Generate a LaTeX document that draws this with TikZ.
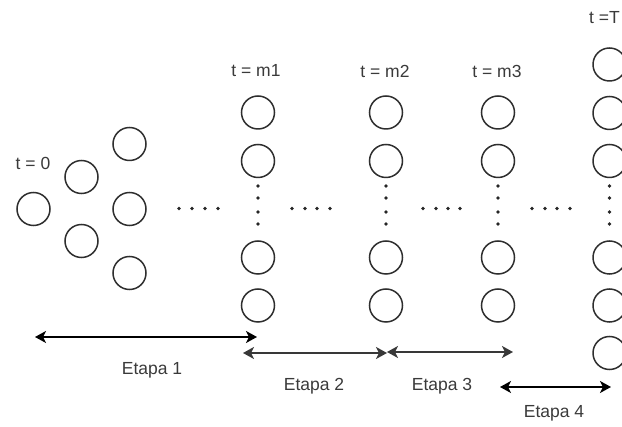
\documentclass[tikz,border=0pt]{standalone}
\usepackage{fontspec}
\setmainfont{Liberation Sans}
\usetikzlibrary{arrows.meta}
\definecolor{ink}{HTML}{2E2E2E}
\definecolor{txt}{HTML}{3A3A3A}
\tikzset{
  neuron/.style={circle,draw=ink,line width=1.5pt,minimum size=33pt,inner sep=0pt},
  lbl/.style={text=txt,font=\fontsize{17.5}{20}\selectfont,inner sep=0pt},
  span/.style={line width=1.6pt,{Stealth[length=11pt,width=12pt,inset=3pt]}-{Stealth[length=11pt,width=12pt,inset=3pt]}},
  dotmark/.style={circle,fill=black!85,minimum size=3.8pt,inner sep=0pt}
}
\begin{document}
\begin{tikzpicture}[x=1pt,y=-1pt]
\useasboundingbox (0,0) rectangle (622,427);
\clip (0,0) rectangle (622,427);
% t = 0 group
\node[lbl] (l0) at (33,163) {t = 0};
\node[neuron] (a1) at (33.5,209) {};
\node[neuron] (b1) at (81.5,177) {};
\node[neuron] (b2) at (81.5,241) {};
\node[neuron] (c1) at (129.5,144) {};
\node[neuron] (c2) at (129.5,209) {};
\node[neuron] (c3) at (129.5,273) {};
% columns
\foreach \x/\n in {258/m1,386/m2,498/m3}{
  \node[neuron] (\n a) at (\x,112.5) {};
  \node[neuron] (\n b) at (\x,161) {};
  \node[neuron] (\n c) at (\x,257.5) {};
  \node[neuron] (\n d) at (\x,305.5) {};
  \foreach \y in {186,198,212,224}{ \node[dotmark] at (\x,\y) {}; }
}
\node[lbl] (lm1) at (256,71) {t = m1};
\node[lbl] (lm2) at (385,71) {t = m2};
\node[lbl] (lm3) at (497,71) {t = m3};
% final column
\foreach \y/\k in {64.5/a,113/b,161/c,257.5/d,305.5/e,353/f}{
  \node[neuron] (T\k) at (609.5,\y) {};
}
\foreach \y in {186,198,212,224}{ \node[dotmark] at (609.5,\y) {}; }
\node[lbl,anchor=west] (lT) at (589,18) {t =T};
% horizontal dots
\foreach \x in {179,192,205,218, 292,305,317,330, 423,436,448,460, 532,545,557,570}{
  \node[dotmark] at (\x,208.5) {};
}
% stage arrows
\coordinate (e1s) at (35,337);  \coordinate (e1e) at (257,337);
\coordinate (e2s) at (243,353); \coordinate (e2e) at (387,353);
\coordinate (e3s) at (387,352); \coordinate (e3e) at (513,352);
\coordinate (e4s) at (500,387); \coordinate (e4e) at (611,387);
\draw[span,black] (e1s) -- (e1e);
\draw[span,black!78,line width=2pt] (e2s) -- (e2e);
\draw[span,black!78,line width=2pt] (e3s) -- (e3e);
\draw[span,black] (e4s) -- (e4e);
\node[lbl] (s1) at (152,370) {Etapa 1};
\node[lbl] (s2) at (314,386) {Etapa 2};
\node[lbl] (s3) at (442,386) {Etapa 3};
\node[lbl] (s4) at (554,413) {Etapa 4};
\end{tikzpicture}
\end{document}
